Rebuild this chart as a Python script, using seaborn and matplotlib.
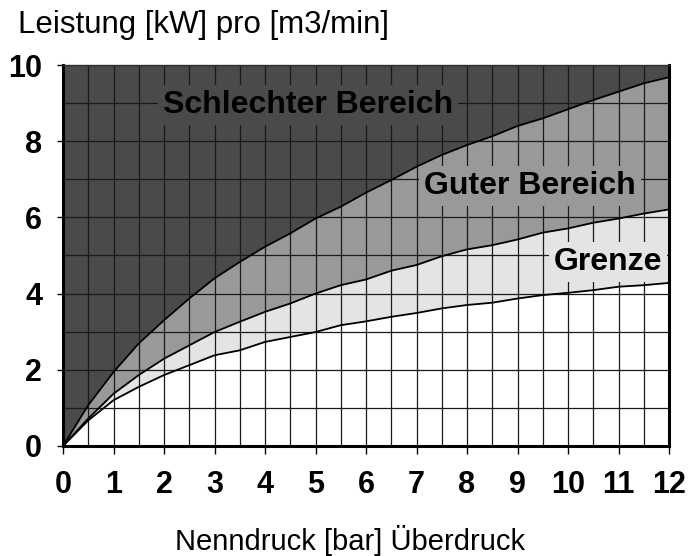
import numpy as np
import pandas as pd
import seaborn as sns
import matplotlib.pyplot as plt
from matplotlib.ticker import MultipleLocator

# Nenndruck [bar] in 0.5er Schritten
druck = [0, 0.5, 1, 1.5, 2, 2.5, 3, 3.5, 4, 4.5, 5, 5.5, 6,
         6.5, 7, 7.5, 8, 8.5, 9, 9.5, 10, 10.5, 11, 11.5, 12]
# untere Kurve (Grenze nach unten)
grenze_unten = [0, 0.67, 1.20, 1.55, 1.86, 2.12, 2.38, 2.51, 2.73, 2.86, 2.99, 3.17, 3.27,
                3.39, 3.49, 3.61, 3.70, 3.76, 3.87, 3.96, 4.02, 4.09, 4.18, 4.22, 4.28]
# mittlere Kurve (Grenze / Guter Bereich)
grenze_oben = [0, 0.72, 1.37, 1.86, 2.29, 2.64, 2.99, 3.26, 3.52, 3.74, 4.00, 4.22, 4.37,
               4.60, 4.75, 4.98, 5.16, 5.27, 5.42, 5.60, 5.71, 5.86, 5.97, 6.10, 6.21]
# obere Kurve (Guter / Schlechter Bereich)
gut_oben = [0, 1.07, 1.94, 2.69, 3.30, 3.87, 4.40, 4.83, 5.23, 5.58, 5.97, 6.28, 6.65,
            6.98, 7.33, 7.64, 7.90, 8.13, 8.40, 8.60, 8.84, 9.08, 9.30, 9.52, 9.68]

bereiche = ["Schlechter Bereich", "Guter Bereich", "Grenze"]
farben = ["#4a4a4a", "#999999", "#e4e4e4"]

df = pd.DataFrame({"druck": druck, "unten": grenze_unten,
                   "mitte": grenze_oben, "oben": gut_oben})

sns.set_theme(style="white")
plt.rcParams['font.family'] = ['Liberation Sans', 'DejaVu Sans']
plt.rcParams['text.color'] = 'black'

fig = plt.figure(figsize=(6.91, 5.56), dpi=100)
ax = fig.add_axes([0.0912, 0.198, 0.877, 0.685])

# Flaechen
ax.fill_between(df["druck"], df["oben"], 10, color=farben[0], lw=0, zorder=0.2)
ax.fill_between(df["druck"], df["mitte"], df["oben"], color=farben[1], lw=0, zorder=0.2)
ax.fill_between(df["druck"], df["unten"], df["mitte"], color=farben[2], lw=0, zorder=0.2)

# Kurven
for col in ["unten", "mitte", "oben"]:
    sns.lineplot(data=df, x="druck", y=col, ax=ax, color="black", lw=1.3, zorder=2)

ax.set_xlim(0, 12)
ax.set_ylim(0, 10)
ax.xaxis.set_major_locator(MultipleLocator(1))
ax.xaxis.set_minor_locator(MultipleLocator(0.5))
ax.yaxis.set_major_locator(MultipleLocator(2))
ax.yaxis.set_minor_locator(MultipleLocator(1))
ax.set_axisbelow(True)
ax.grid(True, which="both", color="#1a1a1a", lw=0.9)

ax.tick_params(axis="x", which="major", direction="out", length=6, width=1,
               color="black", labelcolor="black", pad=11, labelsize=22)
ax.tick_params(axis="y", which="major", direction="out", length=4, width=1,
               color="black", labelcolor="black", pad=11, labelsize=22)
ax.tick_params(which="minor", length=0)
ax.tick_params(bottom=True, left=True)
for lab in ax.get_xticklabels() + ax.get_yticklabels():
    lab.set_fontweight("bold")

ax.set_xlabel("")
ax.set_ylabel("")

for side in ["left", "bottom", "right"]:
    ax.spines[side].set_linewidth(2.2)
    ax.spines[side].set_color("black")
ax.spines["top"].set_linewidth(1.0)
ax.spines["top"].set_color("#333333")

# Beschriftungen der Bereiche
positionen = [(4.85, 8.95), (9.25, 6.83), (10.8, 4.83)]
for name, farbe, (px, py) in zip(bereiche, farben, positionen):
    ax.text(px, py, name, ha="center", va="center", fontsize=23, fontweight="bold",
            color="black", zorder=3,
            bbox=dict(boxstyle="square,pad=0.15", fc=farbe, ec="none"))

fig.text(0.026, 1 - 33 / 556, "Leistung [kW] pro [m3/min]", ha="left", va="baseline",
         fontsize=22.5, color="black")
fig.text(0.506, 1 - 540 / 556, "Nenndruck [bar] Überdruck", ha="center", va="center",
         fontsize=21, color="black")

fig.savefig("out.png", dpi=100)
